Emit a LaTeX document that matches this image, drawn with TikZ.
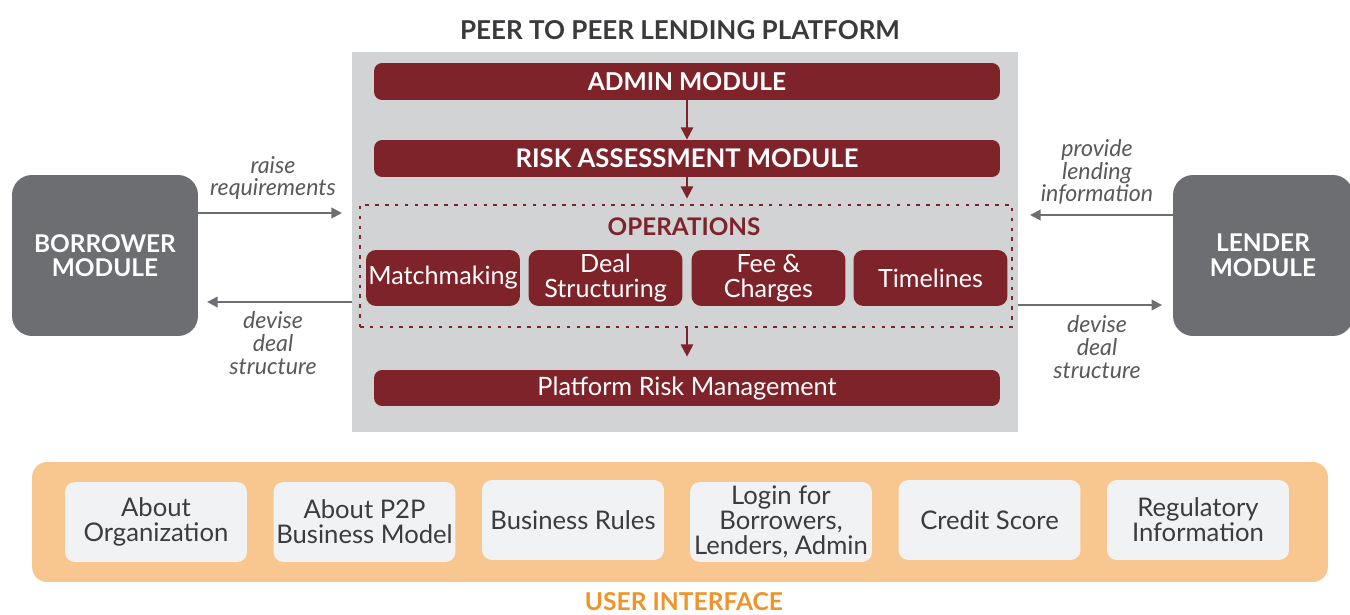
\documentclass[tikz,border=0pt]{standalone}
\usepackage{fontspec}
\setmainfont{Lato}
\usetikzlibrary{arrows.meta,calc}
\definecolor{dred}{HTML}{7F232B}
\definecolor{mgray}{HTML}{6D6E71}
\definecolor{panelgray}{HTML}{D1D3D4}
\definecolor{peach}{HTML}{F8C78F}
\definecolor{uibox}{HTML}{F1F2F4}
\definecolor{uiorange}{HTML}{F0932B}
\definecolor{titlegray}{HTML}{3A3A3C}
\definecolor{labelgray}{HTML}{58595B}
\definecolor{uitext}{HTML}{3C3C3E}
\begin{document}
\begin{tikzpicture}[x=0.02cm,y=-0.02cm,
  redbar/.style={fill=dred,rounded corners=0.16cm,minimum width=12.52cm,minimum height=0.74cm,text=white,font=\fontsize{14}{15}\selectfont\bfseries},
  opsbox/.style={fill=dred,rounded corners=0.2cm,minimum width=3.08cm,minimum height=1.12cm,text=white,align=center,inner sep=1pt,font=\fontsize{14.3}{14.5}\selectfont},
  sidebox/.style={fill=mgray,rounded corners=0.4cm,minimum height=3.22cm,text=white,align=center,font=\fontsize{13.9}{14}\selectfont\bfseries},
  uiitem/.style={fill=uibox,rounded corners=0.2cm,minimum width=3.64cm,minimum height=1.6cm,text=uitext,align=center,inner sep=1pt,font=\fontsize{14.6}{14.4}\selectfont},
  lbl/.style={text=labelgray,align=center,font=\fontsize{13.2}{13}\selectfont\itshape},
  garrow/.style={draw=mgray,line width=1.1pt,-{Triangle[length=6pt,width=6pt]}},
  rarrow/.style={draw=dred,line width=1.1pt,-{Triangle[length=7pt,width=7pt]}}]
\useasboundingbox (0,0) rectangle (1350,615);
% title
\node[text=titlegray,font=\fontsize{14.8}{15}\selectfont\bfseries] (title) at (680,30) {PEER TO PEER LENDING PLATFORM};
% platform panel
\node[fill=panelgray,minimum width=13.32cm,minimum height=7.6cm,inner sep=0pt] (panel) at (685,242) {};
\node[redbar] (admin) at (687,81.5) {ADMIN MODULE};
\node[redbar,font=\fontsize{14.6}{15}\selectfont\bfseries] (risk) at (687,158.5) {RISK ASSESSMENT MODULE};
\node[draw=dred,line width=1.3pt,dash pattern=on 2pt off 3.6pt,minimum width=13.04cm,minimum height=2.44cm,inner sep=0pt] (ops) at (686,266) {};
\node[text=dred,font=\fontsize{13.8}{15}\selectfont\bfseries] (opstitle) at (684,227) {OPERATIONS};
\node[opsbox] (match) at (443,278) {Matchmaking};
\node[opsbox] (deal) at (605.5,278) {Deal\\Structuring};
\node[opsbox] (fee) at (768.5,278) {Fee \&\\Charges};
\node[opsbox] (time) at (930.5,278) {Timelines};
\node[redbar,minimum height=0.72cm,font=\fontsize{14.4}{15}\selectfont] (prm) at (687,388) {Platform Risk Management};
% red arrows
\draw[rarrow] (admin.south) -- (risk.north);
\draw[rarrow,shorten >=3pt] (risk.south) -- (risk.south |- ops.north);
\draw[rarrow,shorten >=0.26cm] (risk.south |- ops.south) -- (prm.north);
% side modules
\node[sidebox,minimum width=3.72cm] (borrower) at (105,255.5) {BORROWER\\MODULE};
\node[sidebox,minimum width=3.6cm] (lender) at (1263,255.5) {LENDER\\MODULE};
% side arrows
\coordinate (raiseend) at (342,213);
\draw[garrow] (borrower.east |- raiseend) -- (raiseend);
\node[lbl] (raiselbl) at (273,178) {raise\\requirements};
\draw[garrow,shorten >=5pt] (panel.west |- 0,302) -- (borrower.east |- 0,302);
\node[lbl] (devl) at (273,343) {devise\\deal\\structure};
\coordinate (provend) at (1030,215);
\draw[garrow] (lender.west |- provend) -- (provend);
\node[lbl] (provlbl) at (1097,172) {provide\\lending\\information};
\draw[garrow,shorten >=6pt] (panel.east |- 0,305) -- (lender.west |- 0,305);
\node[lbl] (devr) at (1097,347) {devise\\deal\\structure};
% user interface
\node[fill=peach,rounded corners=0.3cm,minimum width=25.92cm,minimum height=2.4cm,inner sep=0pt] (ui) at (680,522) {};
\node[uiitem] (u1) at (156,522) {About\\Organization};
\node[uiitem] (u2) at (364.5,522) {About P2P\\Business Model};
\node[uiitem] (u3) at (573,520) {Business Rules};
\node[uiitem] (u4) at (781,522) {Login for\\Borrowers,\\Lenders, Admin};
\node[uiitem] (u5) at (989.5,520) {Credit Score};
\node[uiitem] (u6) at (1198,520) {Regulatory\\Information};
\node[text=uiorange,font=\fontsize{14}{15}\selectfont\bfseries] (uilbl) at (684,602) {USER INTERFACE};
\end{tikzpicture}
\end{document}
